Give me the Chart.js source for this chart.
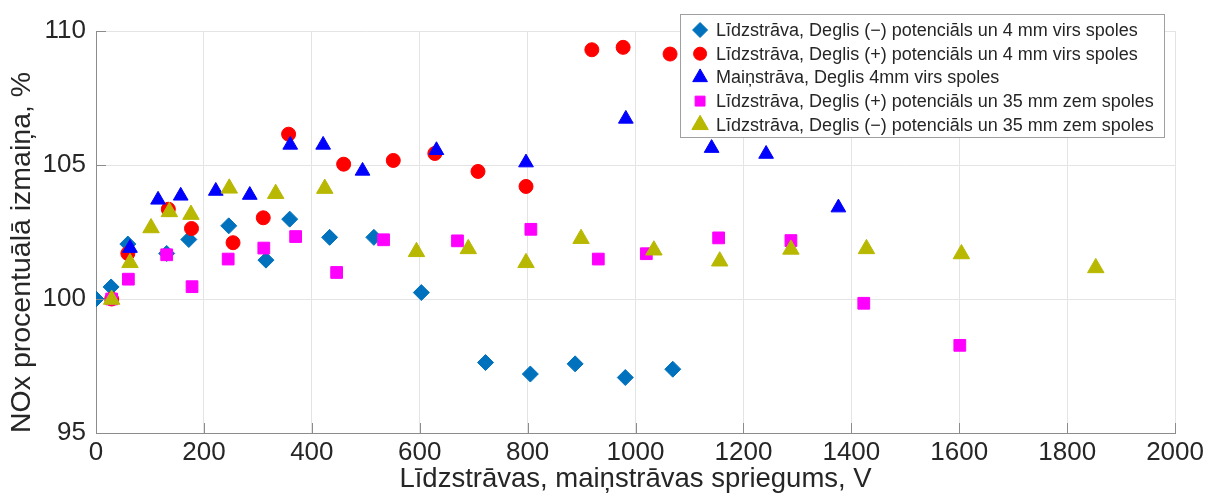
<!DOCTYPE html>
<html lang="lv">
<head>
    <meta charset="UTF-8">
    <title>NOx izmaiņa</title>
    <script src="https://cdn.jsdelivr.net/npm/chart.js"></script>
    <style>
        body {
            margin: 0;
            background-color: white;
        }
        #wrap {
            width: 1208px;
            height: 499px;
        }
    </style>
</head>
<body>

<div id="wrap">
    <canvas id="noxChart" width="1208" height="499"></canvas>
</div>

<script>
// dati nolasīti no grafika
const dcMinus4X = [0, 28, 59, 131, 172, 246, 315, 359, 433, 515, 603, 722, 805, 888, 981, 1069];
const dcMinus4Y = [100, 100.45, 102.05, 101.7, 102.22, 102.73, 101.45, 102.98, 102.3, 102.3, 100.24, 97.63, 97.2, 97.58, 97.07, 97.38];

const dcPlus4X = [29, 59, 134, 177, 254, 310, 357, 459, 551, 628, 708, 797, 919, 977, 1064];
const dcPlus4Y = [100, 101.7, 103.35, 102.63, 102.1, 103.03, 106.15, 105.03, 105.17, 105.43, 104.76, 104.2, 109.3, 109.39, 109.14];

const ac4X = [63, 115, 157, 222, 285, 360, 421, 494, 631, 797, 982, 1141, 1242, 1376];
const ac4Y = [101.9, 103.7, 103.85, 104.03, 103.88, 105.75, 105.75, 104.78, 105.55, 105.09, 106.72, 105.63, 105.41, 103.41];

const dcPlus35X = [29, 60, 131, 178, 245, 311, 370, 446, 533, 670, 806, 931, 1020, 1154, 1288, 1423, 1601];
const dcPlus35Y = [100, 100.74, 101.65, 100.46, 101.49, 101.9, 102.33, 100.99, 102.21, 102.17, 102.6, 101.49, 101.69, 102.28, 102.18, 99.84, 98.27];

const dcMinus35X = [29, 63, 102, 136, 176, 247, 333, 424, 594, 690, 797, 899, 1034, 1156, 1288, 1428, 1604, 1853];
const dcMinus35Y = [99.98, 101.35, 102.65, 103.25, 103.15, 104.13, 103.93, 104.12, 101.76, 101.87, 101.35, 102.25, 101.82, 101.41, 101.85, 101.87, 101.68, 101.16];

const seriesLabels = [
    'Līdzstrāva, Deglis (−) potenciāls un 4 mm virs spoles',
    'Līdzstrāva, Deglis (+) potenciāls un 4 mm virs spoles',
    'Maiņstrāva, Deglis 4mm virs spoles',
    'Līdzstrāva, Deglis (+) potenciāls un 35 mm zem spoles',
    'Līdzstrāva, Deglis (−) potenciāls un 35 mm zem spoles'
];

const xTicks = [0, 200, 400, 600, 800, 1000, 1200, 1400, 1600, 1800, 2000];
const yTicks = [95, 100, 105, 110];

const FONT = "'Liberation Sans', Arial, Helvetica, sans-serif";
const TEXT = '#262626';

function toPoints(xs, ys) {
    return xs.map((x, i) => ({ x: x, y: ys[i] }));
}

function makeSet(label, xs, ys, color, style, radius, legendRadius, order) {
    return {
        label: label,
        data: toPoints(xs, ys),
        backgroundColor: color,
        borderColor: color,
        borderWidth: 1,
        pointStyle: style,
        pointRadius: radius,
        pointHoverRadius: radius,
        legendRadius: legendRadius,
        order: order
    };
}

// MATLAB stila ticks uz iekšu
const innerTicks = {
    id: 'innerTicks',
    afterDraw(chart) {
        const ctx = chart.ctx;
        const x = chart.scales.x;
        const y = chart.scales.y;
        const area = chart.chartArea;
        ctx.save();
        ctx.strokeStyle = '#8c8c8c';
        ctx.lineWidth = 1;
        ctx.beginPath();
        xTicks.forEach(v => {
            const px = Math.round(x.getPixelForValue(v)) + 0.5;
            ctx.moveTo(px, area.bottom);
            ctx.lineTo(px, area.bottom - 10);
        });
        yTicks.forEach(v => {
            const py = Math.round(y.getPixelForValue(v)) + 0.5;
            ctx.moveTo(area.left, py);
            ctx.lineTo(area.left + 10, py);
        });
        ctx.stroke();
        ctx.restore();
    }
};

// leģenda grafika iekšpusē, augšējā labajā stūrī
const boxLegend = {
    id: 'boxLegend',
    afterDraw(chart) {
        const ctx = chart.ctx;
        const area = chart.chartArea;
        const boxRight = area.right - 11;
        const boxTop = area.top - 17;
        const boxW = 484;
        const rowH = 23.7;
        const boxH = 123;
        const left = boxRight - boxW;

        ctx.save();
        ctx.fillStyle = 'white';
        ctx.fillRect(left, boxTop, boxW, boxH);
        ctx.strokeStyle = '#a0a0a0';
        ctx.lineWidth = 1;
        ctx.strokeRect(Math.round(left) + 0.5, Math.round(boxTop) + 0.5, boxW, boxH);

        ctx.font = '18px ' + FONT;
        ctx.textBaseline = 'middle';
        ctx.textAlign = 'left';
        chart.data.datasets.forEach((ds, i) => {
            const cy = boxTop + 16 + i * rowH;
            ctx.fillStyle = ds.backgroundColor;
            ctx.strokeStyle = ds.borderColor;
            Chart.helpers.drawPoint(ctx, {
                pointStyle: ds.pointStyle,
                radius: ds.legendRadius,
                rotation: 0,
                borderWidth: 1
            }, left + 20, cy);
            ctx.fillStyle = TEXT;
            ctx.fillText(ds.label, left + 36, cy + 1);
        });
        ctx.restore();
    }
};

const ctx = document.getElementById('noxChart').getContext('2d');

new Chart(ctx, {
    type: 'scatter',
    data: {
        datasets: [
            makeSet(seriesLabels[0], dcMinus4X, dcMinus4Y, '#0072BD', 'rectRot', 8, 7.5, 5),
            makeSet(seriesLabels[1], dcPlus4X, dcPlus4Y, '#FF0000', 'circle', 7, 6.5, 4),
            makeSet(seriesLabels[2], ac4X, ac4Y, '#0000FF', 'triangle', 8.5, 8.5, 3),
            makeSet(seriesLabels[3], dcPlus35X, dcPlus35Y, '#FF00FF', 'rect', 8.3, 7, 2),
            makeSet(seriesLabels[4], dcMinus35X, dcMinus35Y, '#B8B800', 'triangle', 9.5, 9.5, 1)
        ]
    },
    options: {
        responsive: false,
        animation: false,
        layout: {
            padding: { left: 0, right: 32, top: 31, bottom: 0 }
        },
        plugins: {
            legend: { display: false },
            tooltip: { enabled: false }
        },
        scales: {
            x: {
                type: 'linear',
                min: 0,
                max: 2000,
                afterBuildTicks: scale => {
                    scale.ticks = xTicks.map(v => ({ value: v }));
                },
                afterFit: scale => {
                    scale.height = 66;
                },
                grid: {
                    color: '#e4e4e4',
                    drawTicks: false
                },
                border: { color: '#8c8c8c', width: 1 },
                ticks: {
                    padding: 4,
                    color: TEXT,
                    font: { family: FONT, size: 26 },
                    maxRotation: 0,
                    callback: v => String(v)
                },
                title: {
                    display: true,
                    text: 'Līdzstrāvas, maiņstrāvas spriegums, V',
                    color: TEXT,
                    font: { family: FONT, size: 27.5 },
                    padding: { top: 0, bottom: 3 }
                }
            },
            y: {
                type: 'linear',
                min: 95,
                max: 110,
                afterBuildTicks: scale => {
                    scale.ticks = yTicks.map(v => ({ value: v }));
                },
                afterFit: scale => {
                    scale.width = 96;
                },
                grid: {
                    color: '#e4e4e4',
                    drawTicks: false
                },
                border: { color: '#8c8c8c', width: 1 },
                ticks: {
                    padding: 10,
                    color: TEXT,
                    font: { family: FONT, size: 26 },
                    callback: v => String(v)
                },
                title: {
                    display: true,
                    text: 'NOx procentuālā izmaiņa, %',
                    align: 'start',
                    color: TEXT,
                    font: { family: FONT, size: 28.5 },
                    padding: { top: 5, bottom: 0 }
                }
            }
        }
    },
    plugins: [innerTicks, boxLegend]
});
</script>

</body>
</html>
